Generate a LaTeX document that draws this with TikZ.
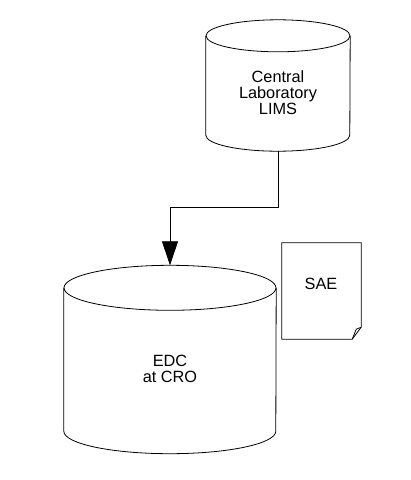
\documentclass[tikz,border=0pt]{standalone}
\usepackage{fontspec}
\setmainfont{Liberation Sans}
\usetikzlibrary{shapes.geometric,arrows.meta,calc}
\tikzset{
  body/.style={draw=none,inner sep=0pt},
  txt/.style={inner sep=0pt,align=center,font=\fontsize{16.3}{16}\selectfont},
  rim/.style={line width=0.8pt},
  conn/.style={line width=0.8pt,-{Triangle[length=24pt,width=16pt]}},
}
\begin{document}
\begin{tikzpicture}[x=1pt,y=-1pt]
  \useasboundingbox (0,0) rectangle (411,480);
  % data stores (body = part between the two rims)
  \node[body,minimum width=144pt,minimum height=99pt] (lims) at (278,85.5) {};
  \node[body,minimum width=212pt,minimum height=143pt] (edc) at (170,359.5) {};
  \foreach \n/\rx/\ry in {lims/72/16,edc/106/22.5} {
    \draw[rim] (\n.north west) -- (\n.south west)
      arc[start angle=180,end angle=0,x radius=\rx,y radius=\ry] -- (\n.north east);
    \draw[rim] (\n.north) ellipse[x radius=\rx,y radius=\ry];
  }
  \node[txt] (limstxt) at ($(lims.center)+(0,7.3)$) {Central\\Laboratory\\LIMS};
  \node[txt] (edctxt) at ($(edc.center)+(0,9.2)$) {EDC\\at CRO};
  % SAE form
  \node[body,minimum width=79pt,minimum height=96pt] (sae) at (321.5,291) {};
  \node[txt] (saetxt) at (321,284) {SAE};
  \draw[rim] (sae.south west) -- (sae.north west) -- (sae.north east)
    -- ($(sae.south east)+(0,-12)$) -- ($(sae.south east)+(-9,0)$) -- cycle;
  \draw[rim] ($(sae.south east)+(-9,0)$) -- ($(sae.south east)+(-5,-10)$)
    -- ($(sae.south east)+(0,-12)$);
  % link
  \coordinate (elbow) at (170,207);
  \draw[conn] ($(lims.south)+(0,16)$) |- (elbow) -- ($(edc.north)+(0,-22.5)$);
\end{tikzpicture}
\end{document}
